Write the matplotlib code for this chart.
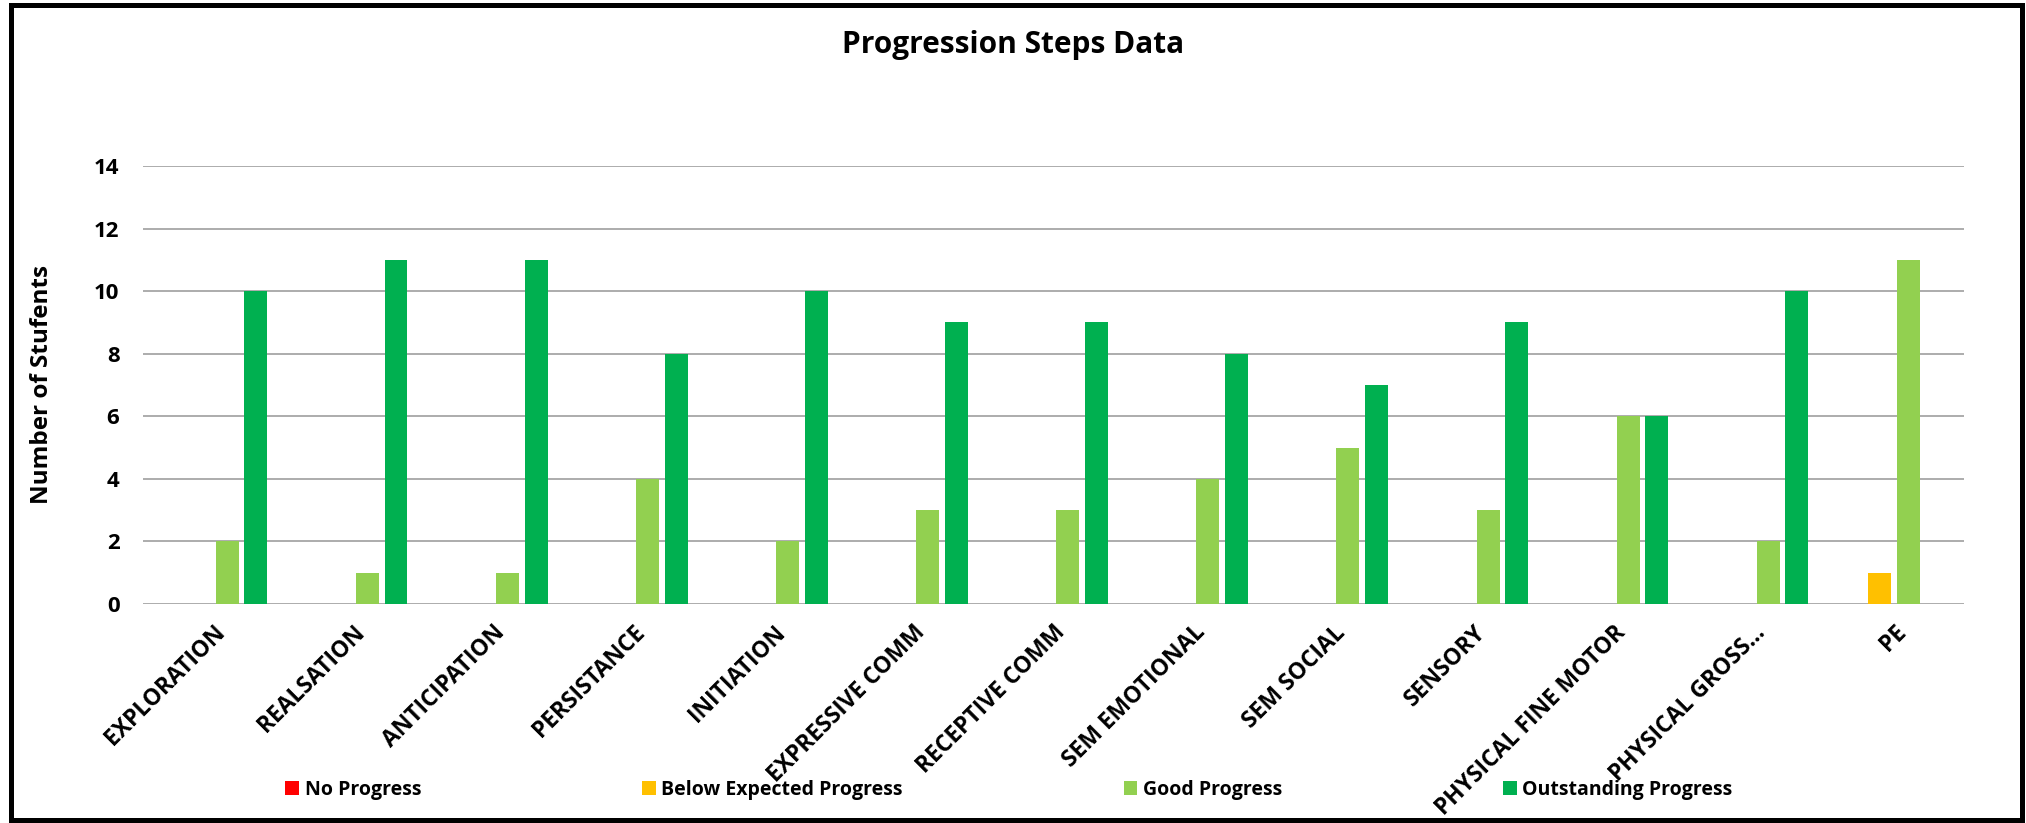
import numpy as np
import matplotlib.pyplot as plt
from matplotlib.patches import Rectangle

# ---------- data ----------
categories = ["EXPLORATION", "REALSATION", "ANTICIPATION", "PERSISTANCE",
              "INITIATION", "EXPRESSIVE COMM", "RECEPTIVE COMM", "SEM EMOTIONAL",
              "SEM SOCIAL", "SENSORY", "PHYSICAL FINE MOTOR", "PHYSICAL GROSS...", "PE"]

no_progress = [0, 0, 0, 0, 0, 0, 0, 0, 0, 0, 0, 0, 0]
below_expected = [0, 0, 0, 0, 0, 0, 0, 0, 0, 0, 0, 0, 1]
good_progress = [2, 1, 1, 4, 2, 3, 3, 4, 5, 3, 6, 2, 11]
outstanding = [10, 11, 11, 8, 10, 9, 9, 8, 7, 9, 6, 10, 0]

series_names = ["No Progress", "Below Expected Progress", "Good Progress", "Outstanding Progress"]
series_vals = [no_progress, below_expected, good_progress, outstanding]
colors = ["#FF0000", "#FFC000", "#92D050", "#00B050"]

# ---------- figure ----------
plt.rcParams['font.family'] = ['Open Sans', 'DejaVu Sans']
plt.rcParams['font.weight'] = 'bold'

fig = plt.figure(figsize=(20.26, 8.23), dpi=100)
ax = fig.add_axes([0.0706, 0.2661, 0.8988, 0.5322])

x = np.arange(len(categories))
pitch = 0.204
width = 0.164
for k, (name, vals, c) in enumerate(zip(series_names, series_vals, colors)):
    ax.bar(x + (k - 1.5) * pitch, vals, width, color=c, label=name, zorder=3)

ax.set_xlim(-0.5, len(categories) - 0.5)
ax.set_ylim(0, 14)
ax.set_yticks(range(0, 15, 2))
ax.grid(axis='y', color='#A6A6A6', linewidth=1.3, zorder=0)
ax.set_axisbelow(True)
for s in ax.spines.values():
    s.set_visible(False)
ax.tick_params(axis='both', length=0)
ax.tick_params(axis='y', pad=17, labelsize=16)

ax.set_xticks(x)
ax.set_xticklabels(categories, rotation=45, ha='right', va='top',
                   rotation_mode='anchor', fontsize=16.5, fontweight='bold')
ax.tick_params(axis='x', pad=12)
for lab in ax.get_yticklabels():
    lab.set_fontweight('bold')

ax.set_ylabel("Number of Stufents", fontsize=17.5, fontweight='bold')
ax.yaxis.set_label_coords(-0.049, 0.5)

fig.text(0.5, 0.945, "Progression Steps Data", ha='center', va='center',
         fontsize=21.5, fontweight='bold')

fig.legend(loc='center', bbox_to_anchor=(0.498, 0.04), ncol=4, frameon=False,
           handlelength=0.7, handleheight=0.7, handletextpad=0.3,
           columnspacing=11.35, prop={'weight': 'bold', 'size': 14})

# outer border
fig.patches.append(Rectangle((11 / 2026, 3 / 823), 2011 / 2026, 815 / 823,
                             transform=fig.transFigure, fill=False,
                             edgecolor='black', linewidth=3.6))

plt.savefig("out.png", dpi=100)
